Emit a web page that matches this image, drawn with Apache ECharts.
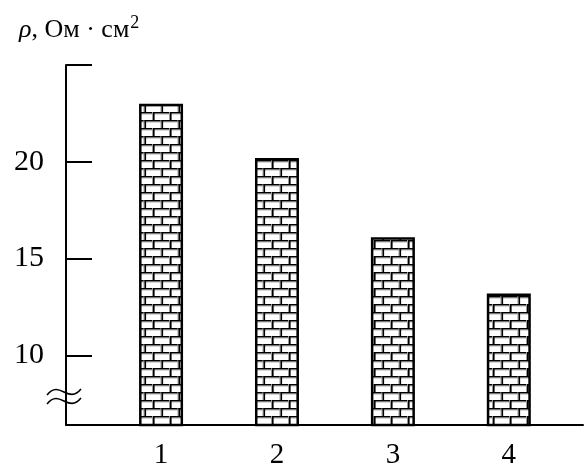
<!DOCTYPE html>
<html>
<head>
<meta charset="utf-8">
<script src="https://cdn.jsdelivr.net/npm/echarts@6/dist/echarts.min.js"></script>
<style>
html,body{margin:0;padding:0;background:#fff;}
#main{width:584px;height:468px;}
</style>
</head>
<body>
<div id="main"></div>
<script>
// Data
const categories = ['1', '2', '3', '4'];
const positions = [1, 2, 3, 4];
const values = [23.0, 20.2, 16.1, 13.2];
const yTicks = [10, 15, 20, 25];
const yLabels = [10, 15, 20];
const yMin = 6.4, yMax = 25;
const xMin = 0.18, xMax = 4.64;
const breakValue = 7.9;

// Brick pattern
function makeBrick() {
  const bw = 17, bh = 8;
  const c = document.createElement('canvas');
  c.width = bw * 2; c.height = bh * 2;
  const g = c.getContext('2d');
  g.fillStyle = '#fff';
  g.fillRect(0, 0, c.width, c.height);
  for (let r = 0; r < 2; r++) {
    const y0 = r * bh;
    g.fillStyle = '#000';
    g.fillRect(0, y0, c.width, 1.6);
    g.fillStyle = '#999';
    g.fillRect(0, y0 + 1.6, c.width, 0.8);
    const off = r === 0 ? 0 : bw / 2;
    for (let x = off; x < c.width + 1; x += bw) {
      g.fillStyle = '#999';
      g.fillRect(x - 1, y0, 1, bh);
      g.fillStyle = '#000';
      g.fillRect(x, y0, 1.6, bh);
    }
  }
  return c;
}

const chart = echarts.init(document.getElementById('main'));
const seriesData = positions.map((p, i) => [p, values[i]]);
const FF = 'Liberation Serif';

chart.setOption({
  animation: false,
  backgroundColor: '#fff',
  title: {
    left: 14, top: 9,
    text: '{i|ρ}{n|, Ом · см}{s|2}',
    textStyle: {
      fontWeight: 'normal',
      rich: {
        i: {fontFamily: FF, fontStyle: 'italic', fontWeight: 'normal', fontSize: 26, color: '#000'},
        n: {fontFamily: FF, fontWeight: 'normal', fontSize: 26, color: '#000'},
        s: {fontFamily: FF, fontWeight: 'normal', fontSize: 18, color: '#000', padding: [0, 0, 14, 1]}
      }
    }
  },
  grid: {left: 66, right: 1, top: 65, bottom: 43, containLabel: false, outerBoundsMode: 'none'},
  xAxis: {
    type: 'value', min: xMin, max: xMax,
    axisLine: {show: true, onZero: false, lineStyle: {color: '#000', width: 2}},
    axisTick: {show: false},
    splitLine: {show: false},
    axisLabel: {
      customValues: positions,
      formatter: (v) => categories[positions.indexOf(v)] ?? '',
      fontFamily: FF, fontSize: 29, color: '#000', margin: 16
    }
  },
  yAxis: {
    type: 'value', min: yMin, max: yMax,
    axisLine: {show: true, onZero: false, lineStyle: {color: '#000', width: 2}},
    axisTick: {show: true, inside: true, length: 26, customValues: yTicks, lineStyle: {color: '#000', width: 2}},
    splitLine: {show: false},
    axisLabel: {
      customValues: yLabels,
      fontFamily: FF, fontSize: 30, color: '#000', margin: 22
    }
  },
  series: [{
    type: 'bar',
    barWidth: 44,
    data: seriesData,
    itemStyle: {
      color: {image: makeBrick(), repeat: 'repeat'},
      borderColor: '#000',
      borderWidth: 2.5
    }
  }]
});

// axis-break symbol
const bx = chart.convertToPixel({xAxisIndex: 0}, xMin);
const by = chart.convertToPixel({yAxisIndex: 0}, breakValue);
function wave(dy) {
  const y = by + dy;
  return {
    type: 'bezierCurve',
    shape: {x1: bx - 19, y1: y + 3, x2: bx + 15, y2: y - 3, cpx1: bx - 6, cpy1: y - 13, cpx2: bx + 2, cpy2: y + 13},
    style: {stroke: '#000', lineWidth: 1.6, fill: null}
  };
}
chart.setOption({graphic: [wave(-4), wave(5)]});
</script>
</body>
</html>
